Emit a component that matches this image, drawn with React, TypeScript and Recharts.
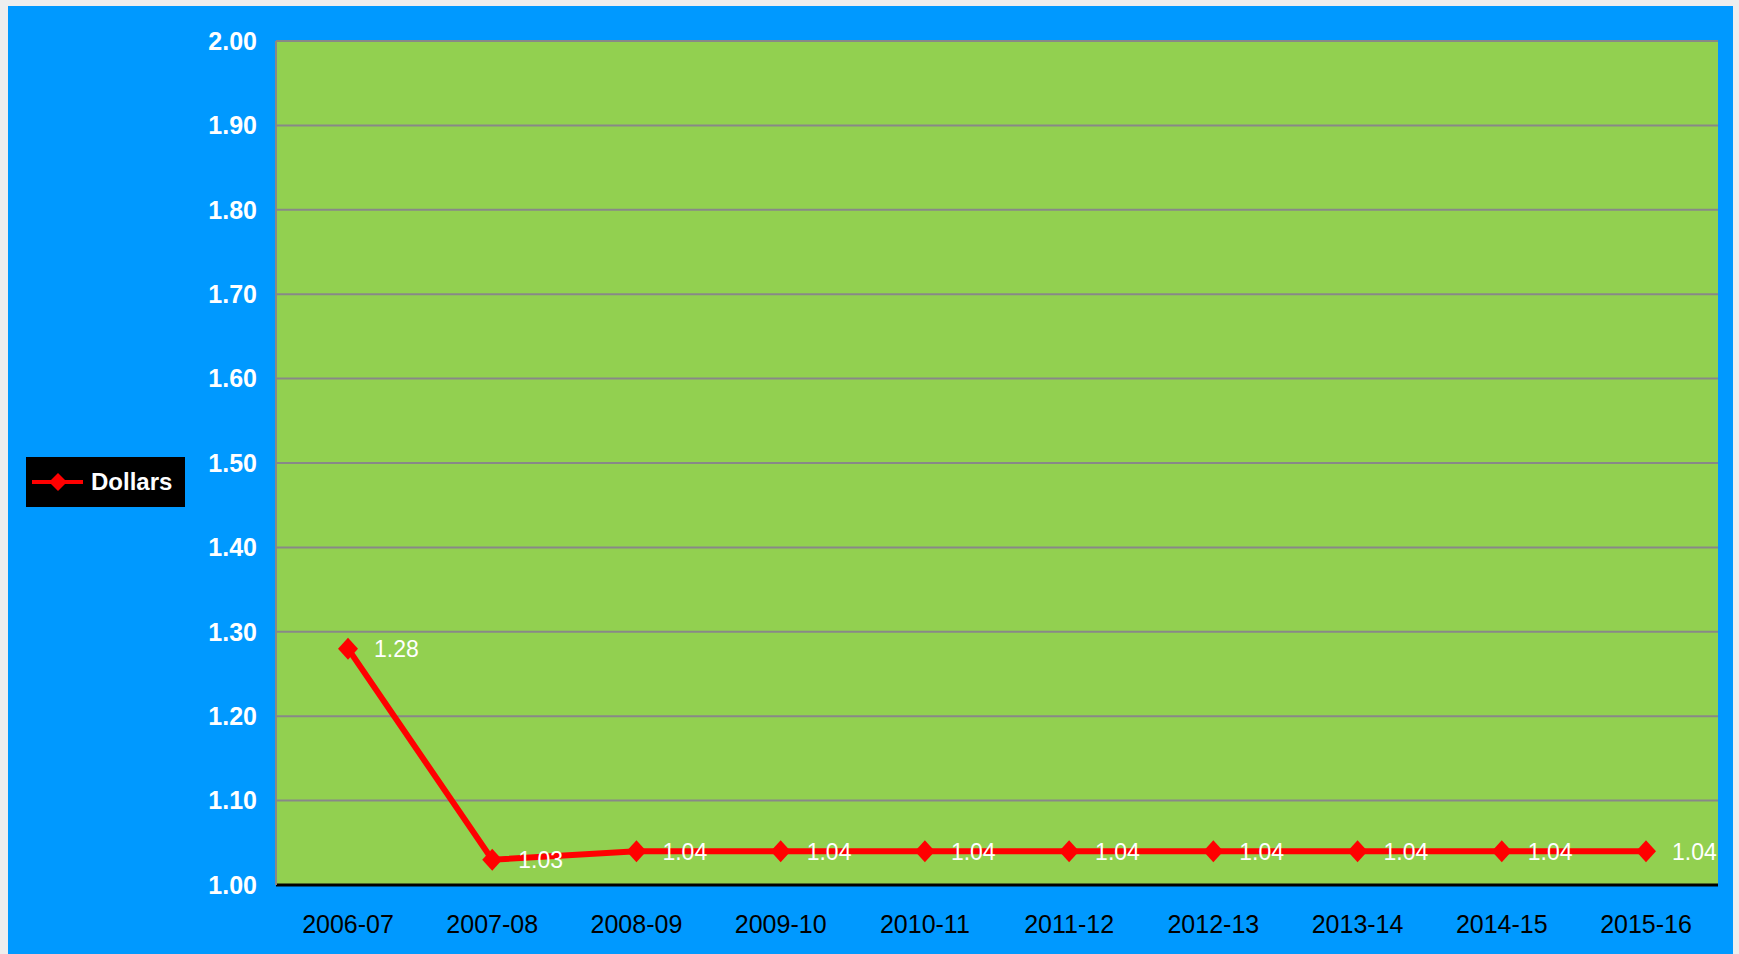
import React from 'react';
import {
    LineChart,
    Line,
    XAxis,
    YAxis,
    CartesianGrid,
    LabelList,
} from 'recharts';

const YEARS = [
    '2006-07', '2007-08', '2008-09', '2009-10', '2010-11',
    '2011-12', '2012-13', '2013-14', '2014-15', '2015-16',
];
const DOLLARS = [1.28, 1.03, 1.04, 1.04, 1.04, 1.04, 1.04, 1.04, 1.04, 1.04];
const Y_TICKS = [1.0, 1.1, 1.2, 1.3, 1.4, 1.5, 1.6, 1.7, 1.8, 1.9, 2.0];

const data = YEARS.map((year, i) => ({ year, dollars: DOLLARS[i] }));

const FONT = '"Liberation Sans", Arial, sans-serif';
const RED = '#FF0000';

const Diamond = (props: any) => {
    const { cx, cy } = props;
    if (cx == null || cy == null) return null;
    return (
        <polygon
            points={`${cx},${cy - 11} ${cx + 10},${cy} ${cx},${cy + 11} ${cx - 10},${cy}`}
            fill={RED}
        />
    );
};

const PointLabel = (props: any) => {
    const { x, y, value } = props;
    return (
        <text
            x={x + 26}
            y={y}
            dy="0.36em"
            fill="#ffffff"
            fontSize={23}
            fontFamily={FONT}
        >
            {Number(value).toFixed(2)}
        </text>
    );
};

// legend drawn as a plain box so it doesn't eat into the plot area
const LegendBox = () => (
    <div
        style={{
            position: 'absolute',
            left: 18,
            top: 451,
            background: '#000',
            width: 159,
            height: 50,
            display: 'flex',
            alignItems: 'center',
            fontFamily: FONT,
        }}
    >
        <svg width={60} height={50}>
            <line x1={6} y1={25} x2={57} y2={25} stroke={RED} strokeWidth={4} />
            <polygon points="32,16 41,25 32,34 23,25" fill={RED} />
        </svg>
        <span style={{ color: '#fff', fontWeight: 'bold', fontSize: 24, marginLeft: 5 }}>Dollars</span>
    </div>
);

export default function App() {
    return (
        <div
            style={{
                position: 'absolute',
                left: 0,
                top: 0,
                width: 1739,
                height: 954,
                background: '#eeeeee',
                overflow: 'hidden',
            }}
        >
            <div
                style={{
                    position: 'absolute',
                    left: 8,
                    top: 6,
                    width: 1725,
                    height: 948,
                    background: '#0099FF',
                }}
            >
                <LineChart
                    width={1725}
                    height={948}
                    data={data}
                    margin={{ top: 35, right: 15, bottom: 39, left: 208 }}
                >
                    <CartesianGrid
                        vertical={false}
                        stroke="#888888"
                        strokeWidth={2}
                        fill="#92D050"
                        fillOpacity={1}
                    />
                    <XAxis
                        dataKey="year"
                        height={30}
                        padding={{ left: 72, right: 72 }}
                        tickLine={false}
                        tickSize={0}
                        tickMargin={30}
                        axisLine={{ stroke: '#000', strokeWidth: 3 }}
                        tick={{ fill: '#000', fontSize: 25, fontFamily: FONT }}
                        interval={0}
                    />
                    <YAxis
                        width={60}
                        domain={[1, 2]}
                        ticks={Y_TICKS}
                        tickFormatter={(v: number) => v.toFixed(2)}
                        tickLine={false}
                        tickSize={0}
                        tickMargin={19}
                        axisLine={{ stroke: '#888888', strokeWidth: 2 }}
                        tick={{ fill: '#fff', fontSize: 25, fontWeight: 'bold', fontFamily: FONT }}
                        interval={0}
                    />
                    <Line
                        dataKey="dollars"
                        name="Dollars"
                        stroke={RED}
                        strokeWidth={6}
                        dot={<Diamond />}
                        activeDot={false}
                        isAnimationActive={false}
                    >
                        <LabelList dataKey="dollars" content={<PointLabel />} />
                    </Line>
                </LineChart>
                <LegendBox />
            </div>
        </div>
    );
}
